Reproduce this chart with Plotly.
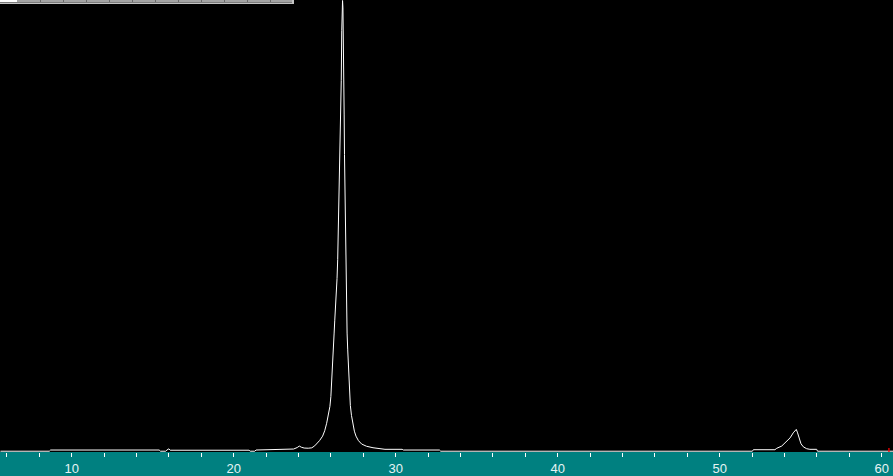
import plotly.graph_objects as go

# 2-theta (degrees) and intensity (arbitrary counts)
two_theta = [5.6, 8.62, 8.70, 15.40, 15.48, 15.80, 15.88, 16.00, 16.08, 20.95, 21.02, 21.30, 21.38,
             23.20, 23.35, 23.70, 23.92, 24.05, 24.18, 24.35, 24.60, 24.82, 25.00, 25.12, 25.30,
             25.49, 25.62, 25.74, 25.85, 25.94, 26.00, 26.05, 26.10, 26.15, 26.20, 26.24, 26.29,
             26.33, 26.38, 26.42, 26.45, 26.48, 26.52, 26.55, 26.60, 26.64, 26.67, 26.70, 26.72,
             26.745, 26.77, 26.80, 26.82, 26.84, 26.87, 26.89, 26.91, 26.93, 26.96, 27.00, 27.04,
             27.09, 27.14, 27.20, 27.27, 27.35, 27.45, 27.55, 27.70, 27.90, 28.20, 28.60, 29.00,
             29.34, 30.40, 30.48, 32.70, 32.78, 52.02, 52.08, 53.41, 53.52, 53.83, 54.00, 54.14,
             54.35, 54.54, 54.65, 54.73, 54.81, 54.90, 55.02, 55.16, 55.37, 55.57, 55.99, 56.04, 60.70]
intensity = [8, 8, 20, 20, 8, 8, 20, 32, 18, 18, 8, 8, 20,
             22, 27, 30, 45, 60, 48, 40, 38, 42, 62, 80, 115,
             160, 215, 290, 370, 460, 560, 690, 850, 1030, 1200, 1330, 1450,
             1560, 1750, 1940, 2150, 2400, 2700, 3000, 3300, 3750, 4250, 4520, 4555,
             4480, 4250, 3900, 3400, 3000, 2650, 2400, 2050, 1650, 1400, 1200, 1030,
             850, 690, 470, 370, 290, 210, 160, 115, 80, 58, 43, 33,
             27, 27, 20, 20, 8, 8, 23, 23, 37, 60, 85, 110,
             143, 193, 220, 228, 193, 143, 83, 53, 33, 27, 27, 8, 8]

x_range = [5.574, 60.70]
y_range = [0, 4560]
major_ticks = [10, 20, 30, 40, 50, 60]
major_labels = ["10", "20", "30", "40", "50", "60"]

W, H, PLOT_H = 893, 476, 456

fig = go.Figure()
fig.add_trace(go.Scatter(x=two_theta, y=intensity, mode="lines",
                         line=dict(color="white", width=1), hoverinfo="skip"))


def px_x(p):
    return p / W


def px_y(p):
    return 1 - p / PLOT_H


shapes = []
# toolbar-like strip at the top-left
shapes.append(dict(type="rect", xref="paper", yref="paper", x0=px_x(0), x1=px_x(294),
                   y0=px_y(4), y1=px_y(0), fillcolor="#c4c4c4", line=dict(width=0), layer="above"))
shapes.append(dict(type="rect", xref="paper", yref="paper", x0=px_x(0), x1=px_x(292),
                   y0=px_y(3), y1=px_y(0), fillcolor="#7c7c7c", line=dict(width=0), layer="above"))
shapes.append(dict(type="rect", xref="paper", yref="paper", x0=px_x(0), x1=px_x(292),
                   y0=px_y(2), y1=px_y(0), fillcolor="#a4a4a4", line=dict(width=0), layer="above"))
shapes.append(dict(type="rect", xref="paper", yref="paper", x0=px_x(0), x1=px_x(17),
                   y0=px_y(2), y1=px_y(0), fillcolor="#ffffff", line=dict(width=0), layer="above"))
for p in range(40, 271, 23):
    shapes.append(dict(type="rect", xref="paper", yref="paper", x0=px_x(p), x1=px_x(p + 1),
                       y0=px_y(2), y1=px_y(0), fillcolor="#6a6a6a", line=dict(width=0), layer="above"))
# red cursor mark at the right end of the baseline
shapes.append(dict(type="rect", xref="paper", yref="paper", x0=px_x(888.3), x1=px_x(889.6),
                   y0=px_y(456), y1=px_y(452), fillcolor="#ff0000", line=dict(width=0), layer="above"))

fig.update_layout(
    width=W, height=H,
    margin=dict(l=0, r=0, t=0, b=H - PLOT_H, pad=0),
    paper_bgcolor="#008080",
    plot_bgcolor="#000000",
    showlegend=False,
    shapes=shapes,
    xaxis=dict(range=x_range, showgrid=False, zeroline=False, showline=False,
               tickmode="array", tickvals=major_ticks, ticktext=major_labels,
               ticks="outside", ticklen=4, tickwidth=1, tickcolor="white",
               tickfont=dict(family="Liberation Sans, Arial, sans-serif", size=13, color="#e6f4f4"),
               minor=dict(dtick=2, tick0=0, ticks="outside", ticklen=4, tickwidth=1,
                          tickcolor="white", showgrid=False),
               fixedrange=True),
    yaxis=dict(range=y_range, visible=False, showgrid=False, zeroline=False, fixedrange=True),
)

fig.write_html("out.html",
               config={"displayModeBar": False},
               post_script="document.body.style.margin='0';document.body.style.overflow='hidden';")
